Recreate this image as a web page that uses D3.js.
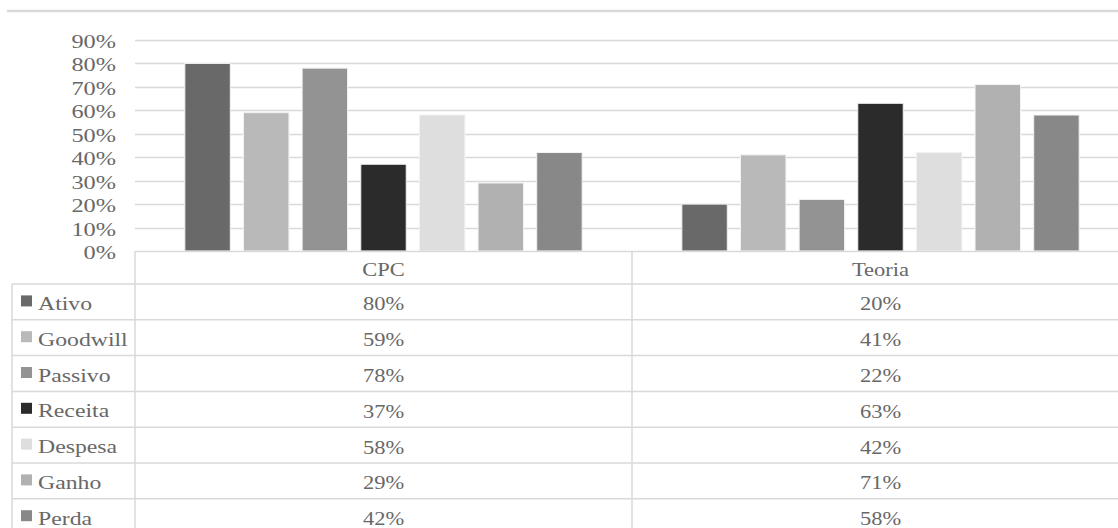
<!DOCTYPE html>
<html>
<head>
<meta charset="utf-8">
<script src="https://cdn.jsdelivr.net/npm/d3@7"></script>
<style>
  html, body { margin: 0; padding: 0; background: #ffffff; }
  svg { display: block; }
  text { font-family: "Liberation Serif", "Times New Roman", serif; fill: #686868; }
</style>
</head>
<body>
<svg id="chart" width="1118" height="528"></svg>
<script>
// Groups along the x axis
const groups = ["CPC", "Teoria"];
// Series names (one bar per series in each group)
const series = ["Ativo", "Goodwill", "Passivo", "Receita", "Despesa", "Ganho", "Perda"];
// Values per series, in group order (CPC, Teoria)
const ativo    = [0.80, 0.20];
const goodwill = [0.59, 0.41];
const passivo  = [0.78, 0.22];
const receita  = [0.37, 0.63];
const despesa  = [0.58, 0.42];
const ganho    = [0.29, 0.71];
const perda    = [0.42, 0.58];
// Y axis ticks
const yTicks = [0, 0.1, 0.2, 0.3, 0.4, 0.5, 0.6, 0.7, 0.8, 0.9];

const seriesValues = [ativo, goodwill, passivo, receita, despesa, ganho, perda];
const colors = ["#696969", "#b9b9b9", "#939393", "#2b2b2b", "#dedede", "#b1b1b1", "#888888"];

const svg = d3.select("#chart");
const W = 1118;
const plotLeft = 135, plotRight = 1129;
const yTop = 40, yBottom = 251;
const rowTop = 284, rowH = 35.8;
const tableLeft = 12;
const gridColor = "#d9d9d9";

const pct = d3.format(".0%");

const x0 = d3.scaleBand().domain(groups).range([plotLeft, plotRight]).padding(0);
const x1 = d3.scaleBand().domain(series).range([0, x0.bandwidth()])
  .paddingInner(0.225).paddingOuter(0.85);
const y = d3.scaleLinear().domain([0, 0.9]).range([yBottom, yTop]);

// Helper: text stretched horizontally around its anchor point
function stretchedText(g, x, yy, str, size, sx, anchor) {
  return g.append("text")
    .attr("transform", `translate(${x},${yy}) scale(${sx},1)`)
    .attr("text-anchor", anchor)
    .style("font-size", size + "px")
    .text(str);
}

// Top rule
svg.append("line")
  .attr("x1", 7).attr("x2", W).attr("y1", 11).attr("y2", 11)
  .attr("stroke", gridColor).attr("stroke-width", 2.5);

// Gridlines
svg.append("g").selectAll("line")
  .data(yTicks.filter(d => d > 0))
  .join("line")
  .attr("x1", plotLeft).attr("x2", W)
  .attr("y1", d => Math.round(y(d)) + 0.5).attr("y2", d => Math.round(y(d)) + 0.5)
  .attr("stroke", gridColor).attr("stroke-width", 1.5);

// Y axis labels
const yg = svg.append("g");
yTicks.forEach(t => {
  stretchedText(yg, 116, y(t) + 8, pct(t), 19, 1.28, "end");
});

// Bars
const barG = svg.append("g");
groups.forEach((grp, gi) => {
  series.forEach((s, si) => {
    const v = seriesValues[si][gi];
    barG.append("rect")
      .attr("x", x0(grp) + x1(s))
      .attr("y", y(v))
      .attr("width", x1.bandwidth())
      .attr("height", y(0) - y(v))
      .attr("fill", colors[si])
      .attr("stroke", "#f2f2f2")
      .attr("stroke-width", 1);
  });
});

// Data table
const tg = svg.append("g");
const nRows = series.length;
const tableBottom = rowTop + rowH * nRows;

// Horizontal rules
tg.append("line")
  .attr("x1", plotLeft).attr("x2", W).attr("y1", yBottom + 0.5).attr("y2", yBottom + 0.5)
  .attr("stroke", gridColor).attr("stroke-width", 1.5);
d3.range(nRows + 1).forEach(i => {
  const yy = rowTop + rowH * i;
  tg.append("line")
    .attr("x1", tableLeft).attr("x2", W).attr("y1", yy).attr("y2", yy)
    .attr("stroke", gridColor).attr("stroke-width", 1.5);
});
// Vertical rules
tg.append("line")
  .attr("x1", tableLeft).attr("x2", tableLeft).attr("y1", rowTop).attr("y2", tableBottom)
  .attr("stroke", gridColor).attr("stroke-width", 1.5);
groups.forEach(grp => {
  tg.append("line")
    .attr("x1", x0(grp)).attr("x2", x0(grp)).attr("y1", yBottom).attr("y2", tableBottom)
    .attr("stroke", gridColor).attr("stroke-width", 1.5);
});

// Header labels
groups.forEach(grp => {
  const cx = x0(grp) + x0.bandwidth() / 2;
  stretchedText(tg, cx, (yBottom + rowTop) / 2 + 8.5, grp, 18, 1.25, "middle");
});

// Rows: legend key, series name, values
series.forEach((s, si) => {
  const cy = rowTop + rowH * si + rowH / 2;
  tg.append("rect")
    .attr("x", 21).attr("y", cy - 6.5)
    .attr("width", 11).attr("height", 11)
    .attr("fill", colors[si]);
  stretchedText(tg, 38, cy + 8, s, 18, 1.32, "start");
  groups.forEach((grp, gi) => {
    const cx = x0(grp) + x0.bandwidth() / 2;
    stretchedText(tg, cx, cy + 8.5, pct(seriesValues[si][gi]), 18, 1.25, "middle");
  });
});
</script>
</body>
</html>
